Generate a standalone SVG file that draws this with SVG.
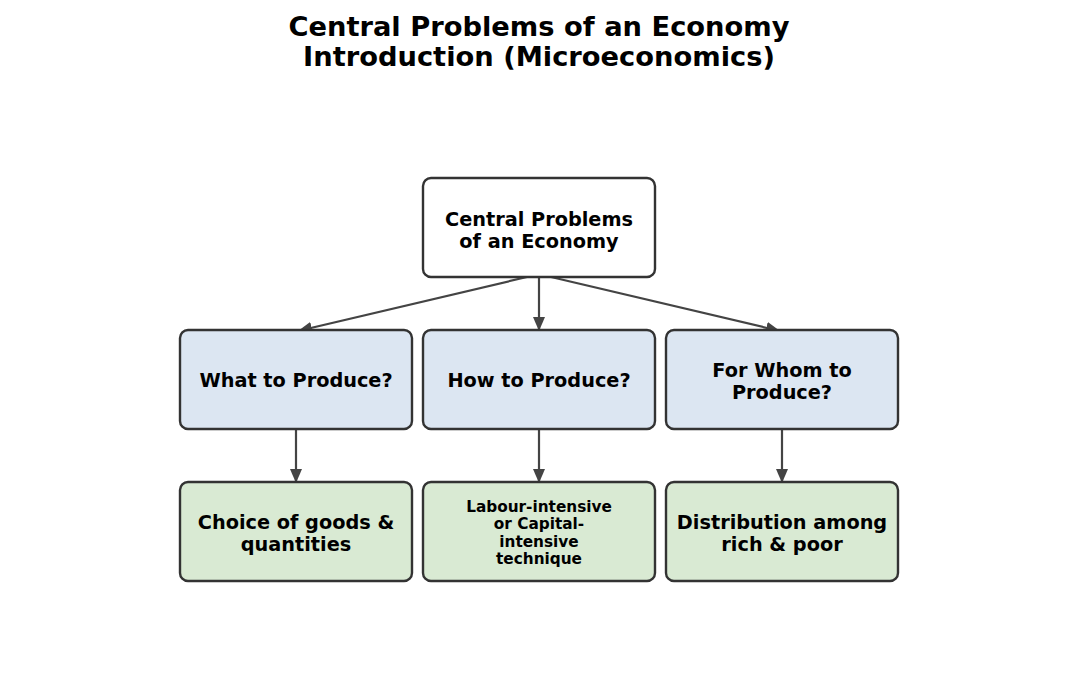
<svg xmlns="http://www.w3.org/2000/svg" width="1078" height="699" viewBox="0 0 1078 699">
<style>
text{font-family:"DejaVu Sans",sans-serif;font-weight:bold;fill:#000;text-anchor:middle}
.t{font-size:27.3px}
.n{font-size:19.3px}
.s{font-size:15.3px}
.box{stroke:#333;stroke-width:2.4}
.w{fill:#fff}.b{fill:#dce6f2}.g{fill:#d9ead3}
.c{stroke:#444;stroke-width:2.2;fill:none}
</style>
<defs>
<marker id="ah" markerWidth="14" markerHeight="12" refX="14" refY="6" orient="auto" markerUnits="userSpaceOnUse" viewBox="0 0 14 12">
<path d="M0,0 L14,6 L0,12 z" fill="#444"/>
</marker>
</defs>
<rect width="1078" height="699" fill="#fff"/>
<g id="title">
<text class="t" x="539" y="35.5">Central Problems of an Economy</text>
<text class="t" x="539" y="65.5">Introduction (Microeconomics)</text>
</g>
<g id="connectors">
<line class="c" x1="527" y1="277" x2="298" y2="331" marker-end="url(#ah)"/>
<line class="c" x1="539" y1="277" x2="539" y2="331" marker-end="url(#ah)"/>
<line class="c" x1="551" y1="277" x2="780" y2="331" marker-end="url(#ah)"/>
<line class="c" x1="296" y1="429" x2="296" y2="483" marker-end="url(#ah)"/>
<line class="c" x1="539" y1="429" x2="539" y2="483" marker-end="url(#ah)"/>
<line class="c" x1="782" y1="429" x2="782" y2="483" marker-end="url(#ah)"/>
</g>
<g id="root">
<rect class="box w" x="423" y="178" width="232" height="99" rx="8"/>
<text class="n" x="539" y="225.5">Central Problems</text>
<text class="n" x="539" y="247.5">of an Economy</text>
</g>
<g id="what">
<rect class="box b" x="180" y="330" width="232" height="99" rx="8"/>
<text class="n" x="296" y="387">What to Produce?</text>
</g>
<g id="how">
<rect class="box b" x="423" y="330" width="232" height="99" rx="8"/>
<text class="n" x="539" y="387">How to Produce?</text>
</g>
<g id="whom">
<rect class="box b" x="666" y="330" width="232" height="99" rx="8"/>
<text class="n" x="782" y="376.5">For Whom to</text>
<text class="n" x="782" y="398.5">Produce?</text>
</g>
<g id="choice">
<rect class="box g" x="180" y="482" width="232" height="99" rx="8"/>
<text class="n" x="296" y="528.5">Choice of goods &amp;</text>
<text class="n" x="296" y="550.5">quantities</text>
</g>
<g id="technique">
<rect class="box g" x="423" y="482" width="232" height="99" rx="8"/>
<text class="s" x="539" y="511.5">Labour-intensive</text>
<text class="s" x="539" y="528.5">or Capital-</text>
<text class="s" x="539" y="546.5">intensive</text>
<text class="s" x="539" y="563.5">technique</text>
</g>
<g id="distribution">
<rect class="box g" x="666" y="482" width="232" height="99" rx="8"/>
<text class="n" x="782" y="528.5">Distribution among</text>
<text class="n" x="782" y="550.5">rich &amp; poor</text>
</g>
</svg>
